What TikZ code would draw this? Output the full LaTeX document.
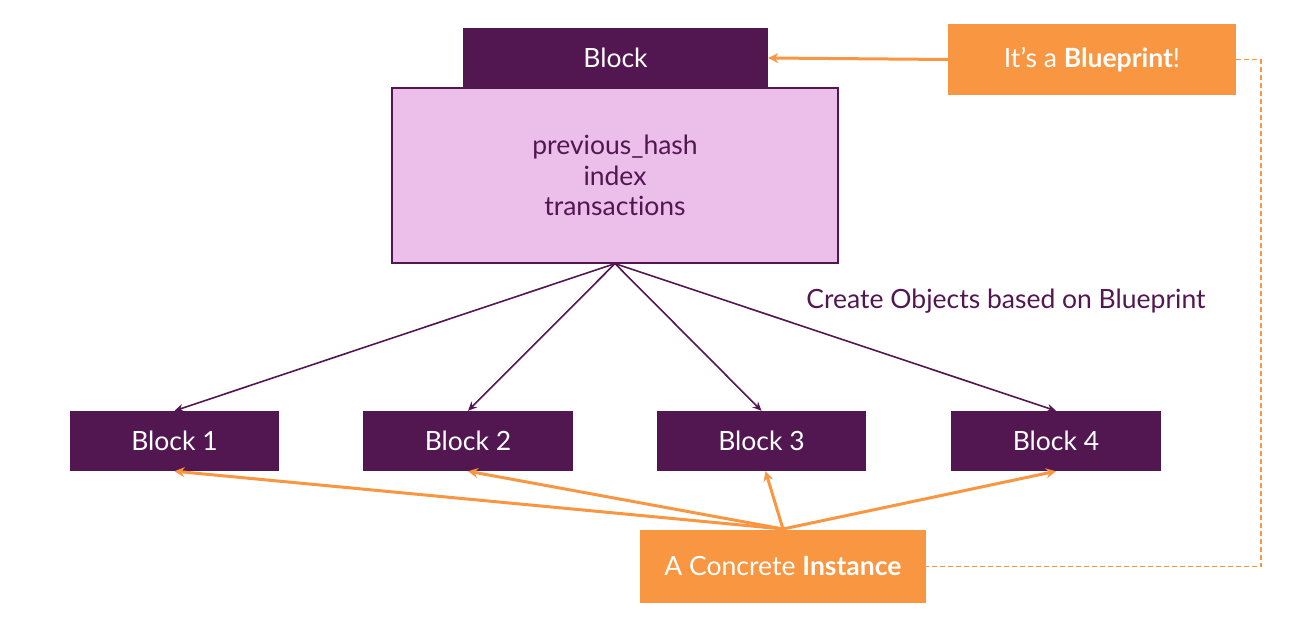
\documentclass[tikz,border=0pt]{standalone}
\usepackage{fontspec}
\setmainfont{Lato}[Ligatures={NoCommon,NoRare}]
\usetikzlibrary{arrows.meta}
\definecolor{dpurple}{HTML}{521751}
\definecolor{pinkbg}{HTML}{EBBFEA}
\definecolor{orng}{HTML}{F89641}
\tikzset{
  darkbox/.style={draw=none, fill=dpurple, text=white, inner sep=0pt, font=\fontsize{26.5}{31}\selectfont},
  orangebox/.style={draw=none, fill=orng, text=white, inner sep=0pt, font=\fontsize{26.5}{31}\selectfont},
  purplearrow/.style={draw=dpurple, line width=1.6pt, -{Stealth[length=9pt,width=8pt]}},
  orangearrow/.style={draw=orng, line width=3pt, -{Stealth[length=10pt,width=10pt]}},
  orangedash/.style={draw=orng, line width=1.8pt, dash pattern=on 5pt off 3pt},
}
\begin{document}
\begin{tikzpicture}[x=1pt,y=-1pt]
\useasboundingbox (0,0) rectangle (1296,644);
% top block
\node[darkbox, minimum width=305pt, minimum height=60pt] (blk) at (615.5,58) {Block};
\node[draw=dpurple, line width=1.2pt, fill=pinkbg, text=dpurple, minimum width=446pt, minimum height=175pt, inner sep=0pt, align=center, font=\fontsize{26.5}{30.5}\selectfont] (body) at (615,175.5) {previous\_hash\\index\\transactions};
% blueprint
\node[orangebox, minimum width=288pt, minimum height=71pt] (bp) at (1092,59.5) {It's a \textbf{Blueprint}!};
% blocks
\node[darkbox, minimum width=209pt, minimum height=60pt] (b1) at (174.5,441) {Block 1};
\node[darkbox, minimum width=210pt, minimum height=60pt] (b2) at (468,441) {Block 2};
\node[darkbox, minimum width=209pt, minimum height=60pt] (b3) at (761.5,441) {Block 3};
\node[darkbox, minimum width=210pt, minimum height=60pt] (b4) at (1056,441) {Block 4};
% instance
\node[orangebox, minimum width=286pt, minimum height=73pt] (inst) at (783,566.5) {A Concrete \textbf{Instance}};
% label
\node[text=dpurple, font=\fontsize{26.5}{31}\selectfont, inner sep=0pt] (lbl) at (1006,301) {Create Objects based on Blueprint};
% purple arrows
\draw[purplearrow] (body.south) -- (b1.north);
\draw[purplearrow] (body.south) -- (b2.north);
\draw[purplearrow] (body.south) -- (b3.north);
\draw[purplearrow] (body.south) -- (b4.north);
% orange arrows
\coordinate (io) at (783,529);
\draw[orangearrow] (io) -- (b1.south);
\draw[orangearrow] (io) -- (b2.south);
\draw[orangearrow] (io) -- ([xshift=4pt]b3.south);
\draw[orangearrow] (io) -- (b4.south);
\draw[orangearrow] (bp.west) -- (blk.east);
% dashed
\coordinate (c1) at (1261,59.5);
\coordinate (c2) at (1261,566.5);
\draw[orangedash] (bp.east) -- (c1) -- (c2) -- (inst.east);
\end{tikzpicture}
\end{document}
